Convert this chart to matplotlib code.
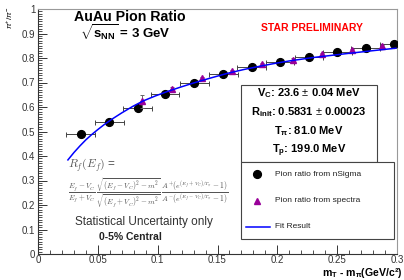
import numpy as np
import matplotlib
matplotlib.use("Agg")
import matplotlib.pyplot as plt
from matplotlib.patches import Rectangle
from matplotlib.lines import Line2D
from matplotlib.ticker import MultipleLocator

plt.rcParams['font.family'] = ['Liberation Sans', 'DejaVu Sans']
plt.rcParams['mathtext.fontset'] = 'custom'
plt.rcParams['mathtext.rm'] = 'Liberation Sans'
plt.rcParams['mathtext.it'] = 'Liberation Sans:italic'
plt.rcParams['mathtext.bf'] = 'Liberation Sans:bold'

# pion ratio from nSigma
x_ns = [0.0357, 0.0596, 0.0833, 0.1061, 0.1306, 0.1548, 0.1786, 0.2022, 0.2265, 0.2501, 0.2738, 0.2977]
y_ns = [0.489, 0.539, 0.596, 0.654, 0.699, 0.733, 0.762, 0.785, 0.805, 0.826, 0.840, 0.857]
xerr_ns = [0.012] * 12

# pion ratio from spectra
x_sp = [0.0873, 0.1122, 0.1373, 0.1624, 0.1874, 0.2128, 0.2376, 0.2621, 0.2872]
y_sp = [0.623, 0.672, 0.717, 0.747, 0.776, 0.793, 0.816, 0.833, 0.850]
yerr_sp = [0.027, 0.008, 0.006, 0.005, 0.005, 0.005, 0.005, 0.005, 0.005]

# fit result
x_fit = [0.025, 0.030, 0.035, 0.040, 0.045, 0.050, 0.055, 0.062, 0.070, 0.079, 0.088, 0.098,
         0.108, 0.119, 0.130, 0.144, 0.158, 0.172, 0.186, 0.198, 0.210, 0.230, 0.258, 0.280, 0.299]
y_fit = [0.384, 0.414, 0.441, 0.466, 0.488, 0.508, 0.527, 0.551, 0.576, 0.602, 0.625, 0.645,
         0.663, 0.681, 0.698, 0.718, 0.737, 0.753, 0.767, 0.778, 0.788, 0.802, 0.818, 0.830, 0.840]

fig = plt.figure(figsize=(4.04, 2.8), dpi=100)
ax = fig.add_axes([38/404, 26/280, 359/404, 245/280])

ax.errorbar(x_ns, y_ns, xerr=xerr_ns, fmt='o', color='black', ms=5.6,
            ecolor='#444444', elinewidth=0.7, capsize=1.8, capthick=0.7, zorder=3)
ax.errorbar(x_sp, y_sp, yerr=yerr_sp, fmt='^', color='#990099', ms=4.6,
            ecolor='#666666', elinewidth=0.7, capsize=1.5, capthick=0.7, zorder=4)
ax.plot(x_fit, y_fit, '-', color='#0000ff', lw=1.1, zorder=5)

ax.set_xlim(0, 0.3)
ax.set_ylim(0, 1)
ax.xaxis.set_minor_locator(MultipleLocator(0.01))
ax.yaxis.set_minor_locator(MultipleLocator(0.01))
ax.set_xticks([0, 0.05, 0.1, 0.15, 0.2, 0.25, 0.3])
ax.set_xticklabels(['0', '0.05', '0.1', '0.15', '0.2', '0.25', '0.3'])
ax.set_yticks(np.arange(0, 11) / 10)
ax.set_yticklabels(['0', '0.1', '0.2', '0.3', '0.4', '0.5', '0.6', '0.7', '0.8', '0.9', '1'])
ax.tick_params(which='both', direction='in', top=False, right=False, labelsize=7, colors='#333333')
ax.tick_params(which='major', length=6.5, width=0.7, pad=2)
ax.tick_params(axis='x', which='major', pad=1.0)
ax.tick_params(which='minor', length=3.2, width=0.6)
for s in ['top', 'right']:
    ax.spines[s].set_color('#999999')
for s in ['left', 'bottom']:
    ax.spines[s].set_color('#333333')
for s in ax.spines.values():
    s.set_linewidth(0.8)

# axis titles
fig.text(0.997, 0.0, r'm$_\mathbf{T}$ - m$_\mathbf{\pi}$(GeV/c²)',
         ha='right', va='bottom', fontsize=7.6, fontweight='bold')
fig.text(10/404, 1 - 18/280, r'$\pi^{+}/\pi^{-}$', rotation=90, ha='center', va='center', fontsize=6)

# titles
fig.text(130/404, 1 - 17/280, 'AuAu Pion Ratio', ha='center', va='center', fontsize=10.2, fontweight='bold')
fig.text(125/404, 1 - 33/280, r'$\sqrt{\mathbf{s}_\mathbf{NN}}$ = 3 GeV', ha='center', va='center',
         fontsize=9.5, fontweight='bold')
fig.text(312/404, 1 - 28/280, 'STAR PRELIMINARY', ha='center', va='center', fontsize=7.5,
         fontweight='bold', color='#ff0000')

# fit parameter box
fig.patches.append(Rectangle((241/404, 1 - 162/280), 136/404, 77/280, transform=fig.transFigure,
                             fill=True, facecolor='white', edgecolor='#444444', lw=0.8, zorder=6))
params = [r'V$_\mathbf{C}$: 23.6 $\pm$ 0.04 MeV',
          r'R$_\mathbf{init}$: 0.5831 $\pm$ 0.00023',
          r'T$_\mathbf{\pi}$: 81.0 MeV',
          r'T$_\mathbf{p}$: 199.0 MeV']
for i, p in enumerate(params):
    fig.text(309/404, 1 - (93 + 19.3 * i)/280, p, ha='center', va='center', fontsize=8,
             fontweight='bold', zorder=7)

# legend box
fig.patches.append(Rectangle((241/404, 1 - 239/280), 153/404, 77/280, transform=fig.transFigure,
                             fill=True, facecolor='white', edgecolor='#444444', lw=0.8, zorder=6))
leg_y = [174, 201, 227]
fig.lines.append(Line2D([257/404], [1 - leg_y[0]/280], marker='o', ms=5.6, color='black',
                        ls='none', transform=fig.transFigure, zorder=7))
fig.lines.append(Line2D([257/404], [1 - leg_y[1]/280], marker='^', ms=4.6, color='#990099',
                        ls='none', transform=fig.transFigure, zorder=7))
fig.lines.append(Line2D([246/404, 270/404], [1 - leg_y[2]/280] * 2, color='#0000ff', lw=1.1,
                        transform=fig.transFigure, zorder=7))
for yy, lab in zip(leg_y, ['Pion ratio from nSigma', 'Pion ratio from spectra', 'Fit Result']):
    fig.text(275/404, 1 - yy/280, lab, ha='left', va='center', fontsize=6, color='#222222', zorder=7)

# formula
fig.text(68/404, 1 - 165/280, r'$R_f(E_f)$ =', ha='left', va='center', fontsize=8.5,
         color='#555555', math_fontfamily='cm')
fig.text(68/404, 1 - 194/280,
         r'$\frac{E_f-V_C}{E_f+V_C}\,\frac{\sqrt{(E_f-V_C)^2-m^2}}{\sqrt{(E_f+V_C)^2-m^2}}\,'
         r'\frac{A^{+}(e^{(E_f+V_C)/T_\pi}-1)}{A^{-}(e^{(E_f-V_C)/T_\pi}-1)}$',
         ha='left', va='center', fontsize=7.8, color='#555555', math_fontfamily='cm')

fig.text(144/404, 1 - 222/280, 'Statistical Uncertainty only', ha='center', va='center',
         fontsize=8.5, color='#333333')
fig.text(130/404, 1 - 237/280, '0-5% Central', ha='center', va='center', fontsize=7.5,
         fontweight='bold', color='#222222')

fig.savefig('out.png', dpi=100)
